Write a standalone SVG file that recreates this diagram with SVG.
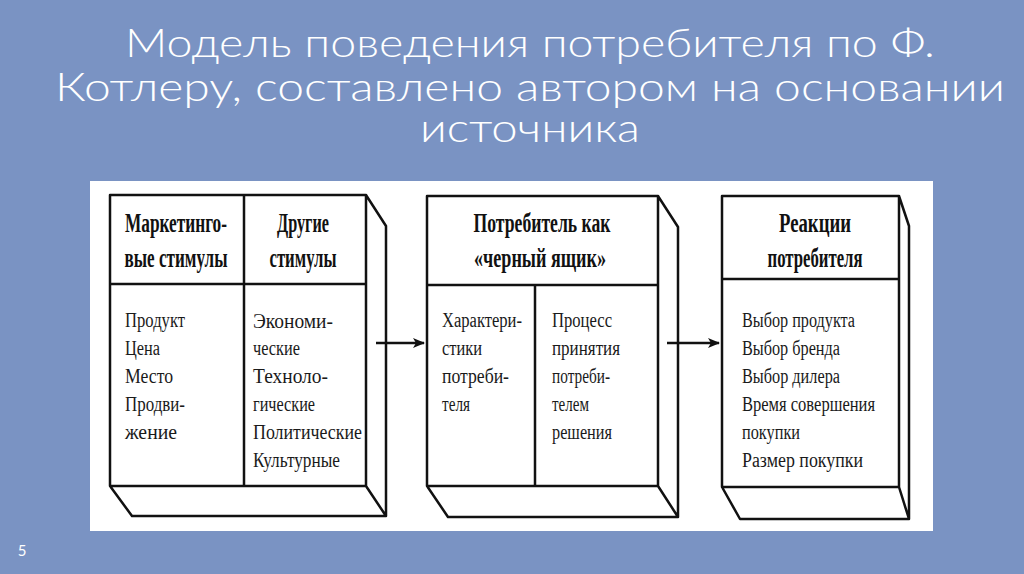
<svg xmlns="http://www.w3.org/2000/svg" width="1024" height="574" viewBox="0 0 1024 574">
<defs>
<style>
.title{font-family:Lato,"Liberation Sans",sans-serif;font-weight:300;font-size:40px;fill:#fff;text-anchor:middle}
.hd{font-family:"Liberation Serif",serif;font-weight:bold;font-size:27px;fill:#111;text-anchor:middle}
.bd{font-family:"Liberation Serif",serif;font-size:20px;fill:#1a1a1a}
.ln{fill:none;stroke:#111;stroke-width:2.5;stroke-linejoin:round}
</style>
<marker id="ah" markerWidth="12" markerHeight="10" refX="11" refY="5" orient="auto" markerUnits="userSpaceOnUse">
<path d="M0,0 L12,5 L0,10 L3,5 Z" fill="#111"/>
</marker>
</defs>
<rect x="0" y="0" width="1024" height="574" fill="#7a93c3"/>
<g id="title">
<text class="title" x="530" y="57" textLength="810" lengthAdjust="spacingAndGlyphs">Модель поведения потребителя по Ф.</text>
<text class="title" x="530" y="101" textLength="950" lengthAdjust="spacingAndGlyphs">Котлеру, составлено автором на основании</text>
<text class="title" x="530" y="142" textLength="220" lengthAdjust="spacingAndGlyphs">источника</text>
</g>
<rect id="panel" x="90" y="181" width="843" height="350" fill="#fff"/>
<g id="box1">
<path class="ln" d="M110,195 H366 V486 H110 Z M110,284 H366 M244,195 V486 M366,195 L386,226 V516 H132 L110,486 M366,486 L386,516"/>
<text class="hd" x="176" y="232" textLength="102" lengthAdjust="spacingAndGlyphs">Маркетинго-</text>
<text class="hd" x="176" y="267" textLength="103" lengthAdjust="spacingAndGlyphs">вые стимулы</text>
<text class="hd" x="303" y="232" textLength="52" lengthAdjust="spacingAndGlyphs">Другие</text>
<text class="hd" x="303" y="267" textLength="67" lengthAdjust="spacingAndGlyphs">стимулы</text>
<text class="bd" x="125" y="327" textLength="60" lengthAdjust="spacingAndGlyphs">Продукт</text>
<text class="bd" x="125" y="355" textLength="35" lengthAdjust="spacingAndGlyphs">Цена</text>
<text class="bd" x="125" y="383" textLength="48" lengthAdjust="spacingAndGlyphs">Место</text>
<text class="bd" x="125" y="411" textLength="60" lengthAdjust="spacingAndGlyphs">Продви-</text>
<text class="bd" x="125" y="439" textLength="52" lengthAdjust="spacingAndGlyphs">жение</text>
<text class="bd" x="253" y="328" textLength="80" lengthAdjust="spacingAndGlyphs">Экономи-</text>
<text class="bd" x="253" y="355" textLength="47" lengthAdjust="spacingAndGlyphs">ческие</text>
<text class="bd" x="253" y="383" textLength="75" lengthAdjust="spacingAndGlyphs">Техноло-</text>
<text class="bd" x="253" y="411" textLength="62" lengthAdjust="spacingAndGlyphs">гические</text>
<text class="bd" x="253" y="439" textLength="109" lengthAdjust="spacingAndGlyphs">Политические</text>
<text class="bd" x="253" y="467" textLength="87" lengthAdjust="spacingAndGlyphs">Культурные</text>
</g>
<g id="box2">
<path class="ln" d="M427,196 H658 V486 H427 Z M427,285 H658 M535,285 V486 M658,196 L678,227 V517 H448 L427,486 M658,486 L678,517"/>
<text class="hd" x="542" y="232" textLength="137" lengthAdjust="spacingAndGlyphs">Потребитель как</text>
<text class="hd" x="540" y="267" textLength="132" lengthAdjust="spacingAndGlyphs">«черный ящик»</text>
<text class="bd" x="442" y="327" textLength="80" lengthAdjust="spacingAndGlyphs">Характери-</text>
<text class="bd" x="442" y="355" textLength="40" lengthAdjust="spacingAndGlyphs">стики</text>
<text class="bd" x="442" y="383" textLength="67" lengthAdjust="spacingAndGlyphs">потреби-</text>
<text class="bd" x="442" y="411" textLength="28" lengthAdjust="spacingAndGlyphs">теля</text>
<text class="bd" x="552" y="327" textLength="60" lengthAdjust="spacingAndGlyphs">Процесс</text>
<text class="bd" x="552" y="355" textLength="68" lengthAdjust="spacingAndGlyphs">принятия</text>
<text class="bd" x="552" y="383" textLength="58" lengthAdjust="spacingAndGlyphs">потреби-</text>
<text class="bd" x="552" y="411" textLength="37" lengthAdjust="spacingAndGlyphs">телем</text>
<text class="bd" x="552" y="439" textLength="60" lengthAdjust="spacingAndGlyphs">решения</text>
</g>
<g id="box3">
<path class="ln" d="M722,196 H899 V487 H722 Z M722,279 H899 M899,196 L909,226 V519 H740 L722,487 M899,487 L909,519"/>
<text class="hd" x="815" y="232" textLength="72" lengthAdjust="spacingAndGlyphs">Реакции</text>
<text class="hd" x="815" y="267" textLength="95" lengthAdjust="spacingAndGlyphs">потребителя</text>
<text class="bd" x="742" y="327" textLength="113" lengthAdjust="spacingAndGlyphs">Выбор продукта</text>
<text class="bd" x="742" y="355" textLength="98" lengthAdjust="spacingAndGlyphs">Выбор бренда</text>
<text class="bd" x="742" y="383" textLength="98" lengthAdjust="spacingAndGlyphs">Выбор дилера</text>
<text class="bd" x="742" y="411" textLength="133" lengthAdjust="spacingAndGlyphs">Время совершения</text>
<text class="bd" x="742" y="439" textLength="58" lengthAdjust="spacingAndGlyphs">покупки</text>
<text class="bd" x="742" y="467" textLength="121" lengthAdjust="spacingAndGlyphs">Размер покупки</text>
</g>
<g id="connectors">
<line class="ln" x1="376" y1="343" x2="424" y2="343" stroke-width="2" marker-end="url(#ah)"/>
<line class="ln" x1="667" y1="343" x2="719" y2="343" stroke-width="2" marker-end="url(#ah)"/>
</g>
<text x="22" y="556" font-family="Lato,'Liberation Sans',sans-serif" font-size="15" fill="#fff" text-anchor="middle">5</text>
</svg>
